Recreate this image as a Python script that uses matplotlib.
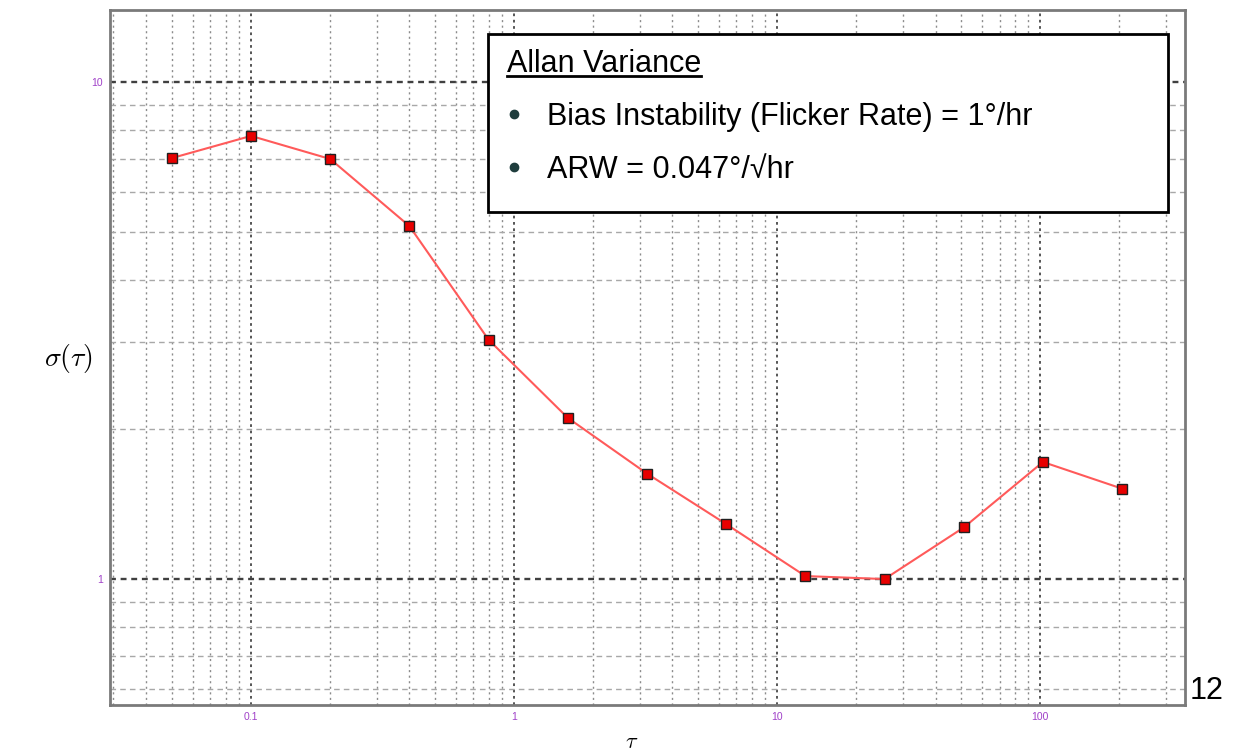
"""Allan variance plot: sigma(tau) vs tau on log-log axes, with a note box."""

import matplotlib
matplotlib.use("Agg")
import matplotlib.pyplot as plt
from matplotlib import font_manager
from matplotlib.lines import Line2D
from matplotlib.patches import Rectangle
from matplotlib.ticker import FixedLocator, FuncFormatter, LogLocator, NullFormatter


tau = [0.05, 0.1, 0.2, 0.4, 0.8, 1.6, 3.2, 6.4, 12.8, 25.6, 51.2, 102.4, 204.8]
sigma = [7.03, 7.79, 7.0, 5.13, 3.03, 2.11, 1.63, 1.29, 1.014, 1.0, 1.27, 1.72, 1.52]

x_ticks = [0.1, 1, 10, 100]
y_ticks = [1, 10]

box_title = "Allan Variance"
box_lines = [
    "Bias Instability (Flicker Rate) = 1\u00b0/hr",
    "ARW = 0.047\u00b0/\u221ahr",
]
page_number = "12"


def pick_font(*names):
    for name in names:
        try:
            font_manager.findfont(name, fallback_to_default=False)
            return name
        except ValueError:
            continue
    return "DejaVu Sans"


sans = pick_font("Liberation Sans", "DejaVu Sans")

W, H = 1237, 754
fig = plt.figure(figsize=(W / 100, H / 100), dpi=100)
ax = fig.add_axes([110 / W, 1 - 705 / H, (1185 - 110) / W, (705 - 10) / H])

ax.set_xscale("log")
ax.set_yscale("log")
ax.set_xlim(0.0291, 355)
ax.set_ylim(0.558, 13.96)

# grid: vertical lines dotted, horizontal lines dashed; decades darker
ax.xaxis.set_major_locator(FixedLocator(x_ticks))
ax.yaxis.set_major_locator(FixedLocator(y_ticks))
ax.xaxis.set_minor_locator(LogLocator(base=10, subs=range(2, 10), numticks=20))
ax.yaxis.set_minor_locator(LogLocator(base=10, subs=range(2, 10), numticks=20))
ax.xaxis.set_minor_formatter(NullFormatter())
ax.yaxis.set_minor_formatter(NullFormatter())
fmt = FuncFormatter(lambda v, _: f"{v:g}")
ax.xaxis.set_major_formatter(fmt)
ax.yaxis.set_major_formatter(fmt)

ax.grid(True, which="major", axis="x", color="#484848", lw=1.3, ls=(0, (1.5, 2)))
ax.grid(True, which="minor", axis="x", color="#8c8c8c", lw=1.0, ls=(0, (1.5, 2.5)))
ax.grid(True, which="major", axis="y", color="#404040", lw=1.7, ls=(0, (2.5, 2)))
ax.grid(True, which="minor", axis="y", color="#a8a8a8", lw=1.0, ls=(0, (4, 3)))
ax.set_axisbelow(True)

ax.tick_params(which="both", length=0, pad=5, labelsize=7.5, labelcolor="#a040c8")
for lab in ax.get_xticklabels() + ax.get_yticklabels():
    lab.set_family(sans)

for side in ("left", "bottom", "top", "right"):
    ax.spines[side].set_color("#7a7a7a")
    ax.spines[side].set_linewidth(2)

ax.plot(tau, sigma, color="#ff5a5a", lw=1.5, marker="s", ms=7,
        mfc="#e80000", mec="#202020", mew=1.0, zorder=3)

plt.rcParams["mathtext.fontset"] = "cm"
fig.text(68 / W, 1 - 358 / H, r"$\sigma(\tau)$", fontsize=20,
         ha="center", va="center")
fig.text(632 / W, 1 - 748 / H, r"$\tau$", fontsize=16, ha="center", va="baseline")

# note box
fig.add_artist(Rectangle((488 / W, 1 - 212 / H), (1168 - 488) / W, (212 - 34) / H,
                         transform=fig.transFigure, facecolor="white",
                         edgecolor="black", lw=2, zorder=5))
title = fig.text(507 / W, 1 - 72 / H, box_title, fontsize=22, family=sans,
                 ha="left", va="baseline", zorder=6)
for base, txt in zip([125, 178], box_lines):
    fig.text(547 / W, 1 - base / H, txt, fontsize=22, family=sans,
             ha="left", va="baseline", zorder=6)
    fig.add_artist(Line2D([514 / W], [1 - (base - 11) / H], transform=fig.transFigure,
                          marker="o", ms=6, mfc="#1f3d3d", mec="#1f3d3d", ls="none",
                          zorder=6))

fig.canvas.draw()
bb = title.get_window_extent()
uy = 1 - 76 / H
fig.add_artist(Line2D([bb.x0 / W, bb.x1 / W], [uy, uy], transform=fig.transFigure,
                      color="black", lw=2, zorder=6))

fig.text(1190 / W, 1 - 699 / H, page_number, fontsize=22, family=sans,
         ha="left", va="baseline")

fig.savefig("out.png", dpi=100, facecolor="white")
